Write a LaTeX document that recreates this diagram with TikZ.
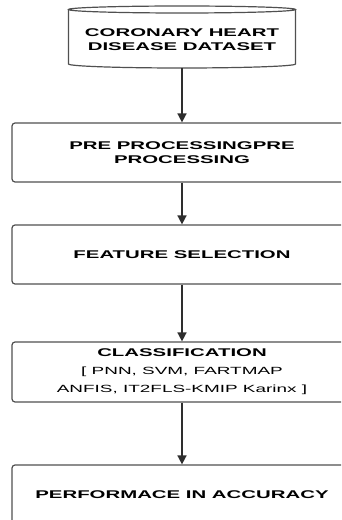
\documentclass[tikz,border=0pt]{standalone}
\usepackage{fontspec}
\newfontfamily\chartfont[FakeStretch=1.82]{Liberation Sans}
\usetikzlibrary{arrows.meta}
\definecolor{edgegray}{HTML}{505050}
\definecolor{arrowgray}{HTML}{2E2E2E}

\begin{document}
\begin{tikzpicture}[x=1pt,y=1pt,>={Triangle[width=9pt,length=9pt]},
                    block/.style={draw=edgegray,line width=1.2pt,rounded corners=3pt,
                      minimum width=340pt,minimum height=59pt,align=center,
                      font=\chartfont\fontsize{11.2}{14}\selectfont\bfseries},
                    link/.style={->,draw=arrowgray,line width=1.6pt}]
  \clip (0,0) rectangle (341,520);
  %\fill[white] (0,0) rectangle (341,520);

  % dataset drum
  \draw[edgegray,line width=1.2pt] (68.5,510.5) -- (68.5,456)
       arc[start angle=180,end angle=360,x radius=113.5,y radius=4]
       -- (295.5,510.5);
  \draw[edgegray,line width=1.2pt] (182,510.5) ellipse[x radius=113.5,y radius=3.5];
  \node[align=center,font=\chartfont\fontsize{11.2}{14}\selectfont\bfseries]
       (data) at (182,480) {CORONARY HEART\\DISEASE DATASET};
  \coordinate (database) at (182,452);

  \node[block]                    (pre)  at (182,367.5) {PRE PROCESSINGPRE\\PROCESSING};
  \node[block]                    (feat) at (182,265.5) {FEATURE SELECTION};
  \node[block,minimum height=60pt] (cls) at (182,148)
       {CLASSIFICATION\\[4pt]\mdseries\fontsize{10.4}{14}\selectfont [ PNN, SVM, FARTMAP\\[4pt]\mdseries\fontsize{10.4}{14}\selectfont ANFIS, IT2FLS-KMIP Karinx ]};
  \node[block,minimum height=60pt] (perf) at (182,25) {PERFORMACE IN ACCURACY};

  \path (database) edge[link] (pre)
        (pre)      edge[link] (feat)
        (feat)     edge[link] (cls)
        (cls)      edge[link] (perf);
\end{tikzpicture}
\end{document}
